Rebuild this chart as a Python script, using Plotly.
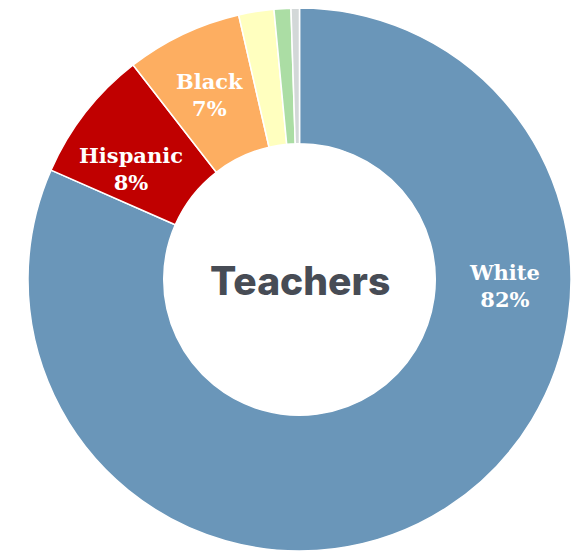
import plotly.graph_objects as go

# Data
groups = ["White", "Hispanic", "Black", "Asian", "Two or more", "Other"]
shares = [81.6, 7.9, 6.9, 2.1, 1.0, 0.5]
label_text = ["White<br>82%", "Hispanic<br>8%", "Black<br>7%"]
colors = ["#6A96B9", "#C00000", "#FDAE61", "#FFFFBF", "#ABDDA4", "#D3D8D8"]
center_title = "Teachers"

W, H = 571, 555
ML, MR, MT, MB = 28, 0, 7, 3
PW, PH = W - ML - MR, H - MT - MB


def px_to_paper(px, py):
    return (px - ML) / PW, 1 - (py - MT) / PH


# label anchor positions (pixels) for the three labelled slices
label_pos = [(504, 286), (131, 169), (209, 95)]

fig = go.Figure(
    go.Pie(
        labels=groups,
        values=shares,
        hole=0.5,
        sort=False,
        direction="clockwise",
        rotation=0,
        textinfo="none",
        marker=dict(colors=colors, line=dict(color="white", width=1.5)),
        showlegend=False,
        domain=dict(x=[0, 1], y=[0, 1]),
    )
)

annotations = []
for txt, (px, py) in zip(label_text, label_pos):
    x, y = px_to_paper(px, py)
    annotations.append(dict(
        text=f"<b>{txt}</b>", x=x, y=y, xref="paper", yref="paper",
        showarrow=False, xanchor="center", yanchor="middle",
        font=dict(family="DejaVu Serif", size=21, color="white"),
    ))
cx, cy = px_to_paper(ML + PW / 2, 280)
annotations.append(dict(
    text=center_title, x=cx, y=cy, xref="paper", yref="paper",
    showarrow=False, xanchor="center", yanchor="middle",
    font=dict(family="Inter", size=39, color="#474C55", weight=800),
))

fig.update_layout(
    width=W, height=H,
    margin=dict(l=ML, r=MR, t=MT, b=MB),
    paper_bgcolor="white",
    plot_bgcolor="white",
    annotations=annotations,
)

fig.write_html(
    "out.html",
    config={"displayModeBar": False},
    post_script="document.body.style.margin='0';document.body.style.overflow='hidden';",
)
